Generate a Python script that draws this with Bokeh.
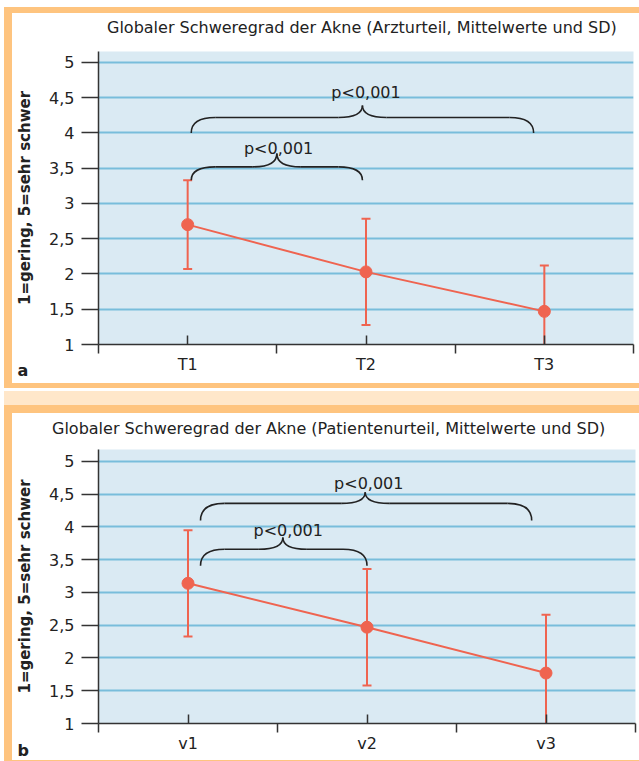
from bokeh.plotting import figure
from bokeh.models import Range1d, FixedTicker, Label, Div, Title
from bokeh.layouts import column, row
from bokeh.embed import file_html
from bokeh.resources import INLINE

# ---------------- data ----------------
cats_a = ["T1", "T2", "T3"]
mean_a = [2.70, 2.03, 1.47]
sd_a = [0.63, 0.755, 0.65]

cats_b = ["v1", "v2", "v3"]
mean_b = [3.14, 2.47, 1.77]
sd_b = [0.81, 0.89, 0.89]

y_ticks = [1, 1.5, 2, 2.5, 3, 3.5, 4, 4.5, 5]
y_tick_labels = ["1", "1,5", "2", "2,5", "3", "3,5", "4", "4,5", "5"]

title_a = "Globaler Schweregrad der Akne (Arzturteil, Mittelwerte und SD)"
title_b = "Globaler Schweregrad der Akne (Patientenurteil, Mittelwerte und SD)"
y_label = "1=gering, 5=sehr schwer"
p_text = "p<0,001"

# significance brackets: x from, x to, x tip, y of ends, y of bar, y of tip, label x, label y
brackets_a = [
    dict(x0=0.52, x1=2.44, xm=1.48, y_end=4.00, y_bar=4.22, y_tip=4.39, lx=1.50, ly=4.58),
    dict(x0=0.52, x1=1.48, xm=1.00, y_end=3.33, y_bar=3.52, y_tip=3.71, lx=1.01, ly=3.78),
]
brackets_b = [
    dict(x0=0.57, x1=2.42, xm=1.49, y_end=4.10, y_bar=4.36, y_tip=4.53, lx=1.51, ly=4.66),
    dict(x0=0.57, x1=1.50, xm=1.03, y_end=3.41, y_bar=3.66, y_tip=3.84, lx=1.06, ly=3.94),
]

# ---------------- styles ----------------
ORANGE = "#FEC47F"
PEACH = "#FFE7CA"
BG = "#DAEAF3"
GRID = "#78BDDB"
RED = "#EF6450"
INK = "#222222"
AXIS = "#333333"
FONT = "DejaVu Sans"

FIG_W = 627
BORDER_L = 86


def make_panel(cats, means, sds, brackets, tag, height, b_top, b_bottom, b_right,
               y_top, tag_standoff):
    n = len(cats)
    xs = [i + 0.5 for i in range(n)]
    lower = [m - s for m, s in zip(means, sds)]
    upper = [m + s for m, s in zip(means, sds)]
    frame_w = FIG_W - BORDER_L - b_right
    ppx = frame_w / n

    p = figure(width=FIG_W, height=height, x_range=Range1d(0, n), y_range=Range1d(1, y_top),
               output_backend="svg", toolbar_location=None,
               min_border_left=BORDER_L, min_border_right=b_right,
               min_border_top=b_top, min_border_bottom=b_bottom,
               background_fill_color=BG, border_fill_color="white", margin=0)
    p.outline_line_color = None

    # grid
    p.xgrid.grid_line_color = None
    p.ygrid.ticker = FixedTicker(ticks=y_ticks)
    p.ygrid.grid_line_color = GRID
    p.ygrid.grid_line_width = 2

    # x axis: category ticks inside, category boundaries as outside minor ticks
    xa = p.xaxis[0]
    xa.ticker = FixedTicker(ticks=xs, minor_ticks=list(range(n + 1)))
    xa.major_label_overrides = {x: c for x, c in zip(xs, cats)}
    xa.major_tick_in = 9
    xa.major_tick_out = 0
    xa.minor_tick_in = 0
    xa.minor_tick_out = 9
    xa.axis_line_color = AXIS
    xa.axis_line_width = 1.5
    xa.major_tick_line_color = AXIS
    xa.major_tick_line_width = 1.5
    xa.minor_tick_line_color = AXIS
    xa.minor_tick_line_width = 1.5
    xa.major_label_text_font = FONT
    xa.major_label_text_font_size = "16px"
    xa.major_label_text_color = INK
    xa.major_label_standoff = 1

    # y axis
    ya = p.yaxis[0]
    ya.ticker = FixedTicker(ticks=y_ticks, minor_ticks=[])
    ya.major_label_overrides = {t: l for t, l in zip(y_ticks, y_tick_labels)}
    ya.major_tick_in = 0
    ya.major_tick_out = 17
    ya.axis_line_color = AXIS
    ya.axis_line_width = 1.5
    ya.major_tick_line_color = AXIS
    ya.major_tick_line_width = 1.5
    ya.major_label_text_font = FONT
    ya.major_label_text_font_size = "16px"
    ya.major_label_text_color = INK
    ya.major_label_standoff = 7
    ya.axis_label = y_label
    ya.axis_label_text_font = FONT
    ya.axis_label_text_font_size = "15px"
    ya.axis_label_text_font_style = "bold"
    ya.axis_label_text_color = INK
    ya.axis_label_standoff = 12

    # error bars (mean +/- SD), connecting line, mean points
    p.segment(x0=xs, y0=lower, x1=xs, y1=upper, line_color=RED, line_width=2)
    p.scatter(x=xs, y=upper, marker="dash", size=9, line_color=RED, line_width=2)
    p.scatter(x=xs, y=lower, marker="dash", size=9, line_color=RED, line_width=2)
    p.line(x=xs, y=means, line_color=RED, line_width=2)
    p.scatter(x=xs, y=means, marker="circle", size=12, fill_color=RED, line_color=RED)

    # significance brackets (curly braces)
    r = 24 / ppx
    for b in brackets:
        x0, x1, xm = b["x0"], b["x1"], b["xm"]
        ye, yb, yt = b["y_end"], b["y_bar"], b["y_tip"]
        p.quadratic(x0=[x0, xm - r, xm, x1], y0=[ye, yb, yt, ye],
                    x1=[x0 + r, xm, xm + r, x1 - r], y1=[yb, yt, yb, yb],
                    cx=[x0, xm, xm, x1], cy=[yb, yb, yb, yb],
                    line_color=INK, line_width=1.6)
        p.segment(x0=[x0 + r, xm + r], y0=[yb, yb], x1=[xm - r, x1 - r], y1=[yb, yb],
                  line_color=INK, line_width=1.6)
        p.add_layout(Label(x=b["lx"], y=b["ly"], text=p_text, text_align="center",
                           text_baseline="alphabetic", text_font=FONT,
                           text_font_size="16px", text_color=INK))

    # panel tag below the axis, at the left edge
    p.add_layout(Title(text=tag, align="left", offset=-81, vertical_align="top",
                       standoff=tag_standoff, text_font=FONT, text_font_size="16px",
                       text_font_style="bold", text_color=INK), "below")
    return p


def title_div(text, height, pad_top, pad_left):
    html = ('<div style="font-family:\'DejaVu Sans\'; font-size:16px; line-height:20px; '
            'color:%s; white-space:nowrap; padding:%dpx 0 0 %dpx;">%s</div>'
            % (INK, pad_top, pad_left, text))
    return Div(text=html, width=FIG_W, height=height, margin=0,
               styles={"background-color": "white"})


pa = make_panel(cats_a, mean_a, sd_a, brackets_a, "a",
                height=340, b_top=8, b_bottom=39, b_right=6, y_top=5.156, tag_standoff=-32)
pb = make_panel(cats_b, mean_b, sd_b, brackets_b, "b",
                height=319, b_top=8, b_bottom=37, b_right=4, y_top=5.183, tag_standoff=-29)


def band(w, h, color):
    return Div(text="", width=w, height=h, margin=0,
               styles={"background-color": color})


inner = column(
    band(635, 6, ORANGE),
    row(band(8, 370, ORANGE), column(title_div(title_a, 30, 5, 95), pa, spacing=0), spacing=0),
    band(635, 5, ORANGE),
    band(635, 3, "white"),
    band(635, 14, PEACH),
    band(635, 8, ORANGE),
    row(band(8, 347, ORANGE), column(title_div(title_b, 28, 6, 40), pb, spacing=0), spacing=0),
    band(635, 1, ORANGE),
    spacing=0,
)

layout = column(
    band(639, 7, "white"),
    row(band(4, 754, "white"), inner, spacing=0),
    spacing=0,
)

open("out.html", "w").write(file_html(layout, INLINE))
